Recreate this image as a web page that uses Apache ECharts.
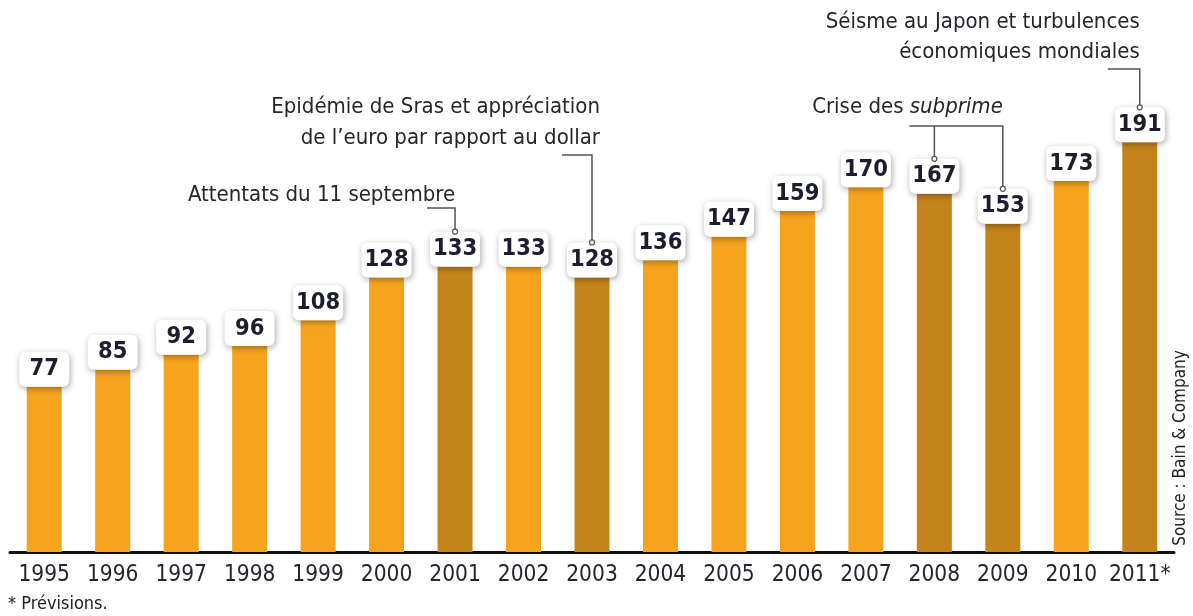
<!DOCTYPE html>
<html><head><meta charset="utf-8">
<script src="https://cdn.jsdelivr.net/npm/echarts@6/dist/echarts.min.js"></script>
<style>html,body{margin:0;padding:0;background:#fff}#c{width:1193px;height:616px}</style>
</head><body><div id="c"></div>
<script>
const years = ['1995','1996','1997','1998','1999','2000','2001','2002','2003','2004','2005','2006','2007','2008','2009','2010','2011*'];
const values = [77,85,92,96,108,128,133,133,128,136,147,159,170,167,153,173,191];
const highlighted = [6,8,13,14,16];
const annotations = [
  {lines:['Attentats du 11 septembre'], targets:[6]},
  {lines:['Epidémie de Sras et appréciation','de l\u2019euro par rapport au dollar'], targets:[8]},
  {lines:['Crise des subprime'], targets:[13,14]},
  {lines:['Séisme au Japon et turbulences','économiques mondiales'], targets:[16]}
];
const footnote = '* Prévisions.';
const source = 'Source : Bain & Company';

const FONT = '"Liberation Sans Narrow","Arial Narrow","DejaVu Sans Condensed",sans-serif';
const LIGHT = '#F6A41E', DARK = '#C4841B';
const chart = echarts.init(document.getElementById('c'));
const LABEL_H = 35;
chart.setOption({
  animation:false,
  grid:{left:10,right:19,top:123,bottom:64},
  xAxis:{type:'category',data:years,
    axisLine:{lineStyle:{color:'#111',width:3}},axisTick:{show:false},
    axisLabel:{color:'#252530',fontFamily:FONT,fontSize:22.5,margin:12,interval:0}},
  yAxis:{type:'value',min:0,max:200,show:false,splitLine:{show:false}},
  series:[{type:'bar',barWidth:35,
    data:values.map((v,i)=>({value:v,itemStyle:{color:highlighted.includes(i)?DARK:LIGHT}})),
    label:{show:true,position:'top',distance:0,
      fontFamily:FONT,fontWeight:'bold',fontSize:23.5,color:'#1d1d30',
      backgroundColor:'#fff',borderRadius:6,width:50,height:LABEL_H,lineHeight:LABEL_H,align:'center',
      padding:0,shadowColor:'rgba(0,0,0,0.35)',shadowBlur:6,shadowOffsetX:1,shadowOffsetY:2}
  }]
});

function px(i){return chart.convertToPixel({seriesIndex:0},[i,values[i]]);}
function labTop(i){return px(i)[1]-LABEL_H;}
const TF = '22px '+FONT, TC = '#25252c', LC = '#555';
const g = [];
function txt(x,y,text,align){g.push({type:'text',style:{x:x,y:y,text:text,font:TF,fill:TC,align:align,verticalAlign:'middle'}, z:10});}
function line(points){g.push({type:'polyline',shape:{points:points},style:{stroke:LC,lineWidth:1.5,fill:null},z:10});}
function dot(x,y){g.push({type:'circle',shape:{cx:x,cy:y,r:2.5},style:{stroke:LC,lineWidth:1.2,fill:'#fff'},z:11});}

// 1
let a=annotations[0], c=px(a.targets[0])[0];
txt(c,195,a.lines[0],'right');
line([[c-28,208],[c,208],[c,labTop(a.targets[0])]]); dot(c,labTop(a.targets[0]));
// 2
a=annotations[1]; c=px(a.targets[0])[0];
txt(c+8,107,a.lines[0],'right'); txt(c+8,138,a.lines[1],'right');
line([[c-30,155],[c,155],[c,labTop(a.targets[0])]]); dot(c,labTop(a.targets[0]));
// 3
a=annotations[2]; const c1=px(a.targets[0])[0], c2=px(a.targets[1])[0];
g.push({type:'text',style:{x:c2,y:107,text:'{a|Crise des }{b|subprime}',align:'right',verticalAlign:'middle',
  rich:{a:{fontFamily:FONT,fontSize:22,fill:TC},b:{fontFamily:FONT,fontSize:22,fontStyle:'italic',fill:TC}}},z:10});
line([[c1-25,126],[c2,126],[c2,labTop(a.targets[1])]]);
line([[c1,126],[c1,labTop(a.targets[0])]]);
dot(c1,labTop(a.targets[0])); dot(c2,labTop(a.targets[1]));
// 4
a=annotations[3]; c=px(a.targets[0])[0];
txt(c,22,a.lines[0],'right'); txt(c,52,a.lines[1],'right');
line([[c-32,69],[c,69],[c,labTop(a.targets[0])]]); dot(c,labTop(a.targets[0]));
// footnote & source
g.push({type:'text',style:{x:8,y:604,text:footnote,font:'18px '+FONT,fill:'#222',verticalAlign:'middle'}});
g.push({type:'text',rotation:Math.PI/2,x:1181,y:448,style:{x:0,y:0,text:source,font:'17px '+FONT,fill:'#222',align:'center',verticalAlign:'middle'}});
chart.setOption({graphic:{elements:g}});
</script></body></html>
